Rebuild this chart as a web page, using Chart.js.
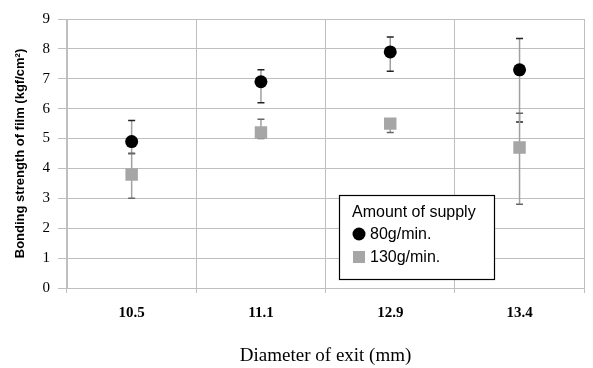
<!DOCTYPE html>
<html>
<head>
<meta charset="utf-8">
<script src="https://cdn.jsdelivr.net/npm/chart.js@4.4.1/dist/chart.umd.min.js"></script>
<style>
  html, body { margin: 0; padding: 0; background: #fff; overflow: hidden; }
  #wrap { width: 593px; height: 368px; }
</style>
</head>
<body>
<div id="wrap"><canvas id="myChart" width="593" height="368"></canvas></div>
<script>
const categories = ["10.5", "11.1", "12.9", "13.4"];
const supply80 = [4.9, 6.9, 7.9, 7.3];
const supply80Hi = [5.6, 7.3, 8.4, 8.35];
const supply80Lo = [4.5, 6.2, 7.25, 5.55];
const supply130 = [3.8, 5.2, 5.5, 4.7];
const supply130Hi = [4.5, 5.65, 5.65, 5.85];
const supply130Lo = [3.0, 5.0, 5.2, 2.8];
const yTicks = [0, 1, 2, 3, 4, 5, 6, 7, 8, 9];

const gridColor = "#bfbfbf";

// error bars drawn under the markers
const errorBars = {
    id: "errorBars",
    beforeDatasetsDraw(chart) {
        const ctx = chart.ctx;
        const y = chart.scales.y;
        chart.data.datasets.forEach((ds, di) => {
            const meta = chart.getDatasetMeta(di);
            meta.data.forEach((pt, i) => {
                const top = y.getPixelForValue(ds.errHi[i]);
                const bot = y.getPixelForValue(ds.errLo[i]);
                ctx.save();
                ctx.lineWidth = 1.5;
                ctx.strokeStyle = "#a0a0a0";
                ctx.beginPath();
                ctx.moveTo(pt.x, top);
                ctx.lineTo(pt.x, bot);
                ctx.stroke();
                ctx.strokeStyle = ds.capColor;
                ctx.beginPath();
                ctx.moveTo(pt.x - 3.5, top); ctx.lineTo(pt.x + 3.5, top);
                ctx.moveTo(pt.x - 3.5, bot); ctx.lineTo(pt.x + 3.5, bot);
                ctx.stroke();
                ctx.restore();
            });
        });
    }
};

// boxed legend inside the plot
const boxLegend = {
    id: "boxLegend",
    afterDraw(chart) {
        const ctx = chart.ctx;
        ctx.save();
        ctx.fillStyle = "#fff";
        ctx.fillRect(339, 195, 155, 84);
        ctx.strokeStyle = "#000";
        ctx.lineWidth = 1.2;
        ctx.strokeRect(339.5, 195.5, 155, 84);
        ctx.fillStyle = "#000";
        ctx.font = "16px 'Liberation Sans'";
        ctx.textBaseline = "middle";
        ctx.fillText("Amount of supply", 352, 213);
        ctx.beginPath();
        ctx.arc(359, 234, 6.5, 0, Math.PI * 2);
        ctx.fill();
        ctx.fillText("80g/min.", 370, 235);
        ctx.fillStyle = "#a6a6a6";
        ctx.fillRect(353, 251, 12, 12);
        ctx.fillStyle = "#000";
        ctx.fillText("130g/min.", 370, 258);
        ctx.restore();
    }
};

new Chart("myChart", {
    type: "line",
    data: {
        labels: categories,
        datasets: [{
            label: "80g/min.",
            data: supply80,
            errHi: supply80Hi,
            errLo: supply80Lo,
            capColor: "#222",
            showLine: false,
            pointStyle: "circle",
            pointRadius: 6.5,
            pointHoverRadius: 6.5,
            backgroundColor: "#000",
            borderColor: "#000",
            borderWidth: 0
        }, {
            label: "130g/min.",
            data: supply130,
            errHi: supply130Hi,
            errLo: supply130Lo,
            capColor: "#666",
            showLine: false,
            pointStyle: "rect",
            pointRadius: 8.8,
            pointHoverRadius: 8.8,
            backgroundColor: "#a6a6a6",
            borderColor: "#a6a6a6",
            borderWidth: 0
        }]
    },
    options: {
        responsive: false,
        animation: false,
        layout: { padding: { top: 19, left: 0, right: 0, bottom: 0 } },
        plugins: { legend: { display: false }, tooltip: { enabled: false } },
        scales: {
            x: {
                offset: true,
                grid: { offset: true, color: gridColor, lineWidth: 1, tickLength: 5 },
                border: { color: gridColor },
                ticks: {
                    color: "#000",
                    padding: 11,
                    font: { family: "'Liberation Serif'", size: 15, weight: "bold" }
                },
                title: {
                    display: true,
                    text: "Diameter of exit (mm)",
                    color: "#000",
                    font: { family: "'Liberation Serif'", size: 19 },
                    padding: { top: 0, bottom: 1 }
                },
                afterFit(scale) { scale.height = 80; }
            },
            y: {
                min: 0,
                max: 9,
                afterBuildTicks(scale) { scale.ticks = yTicks.map(v => ({ value: v })); },
                grid: { color: gridColor, lineWidth: 1, tickLength: 9 },
                border: { color: gridColor },
                ticks: {
                    color: "#000",
                    padding: 8,
                    font: { family: "'Liberation Serif'", size: 15 }
                },
                title: {
                    display: true,
                    text: "Bonding strength of film (kgf/cm²)",
                    color: "#000",
                    font: { family: "'Liberation Sans'", size: 13, weight: "bold" },
                    padding: { top: 13, bottom: 0 }
                },
                afterFit(scale) { scale.width = 67; }
            }
        }
    },
    plugins: [errorBars, boxLegend]
});
</script>
</body>
</html>
